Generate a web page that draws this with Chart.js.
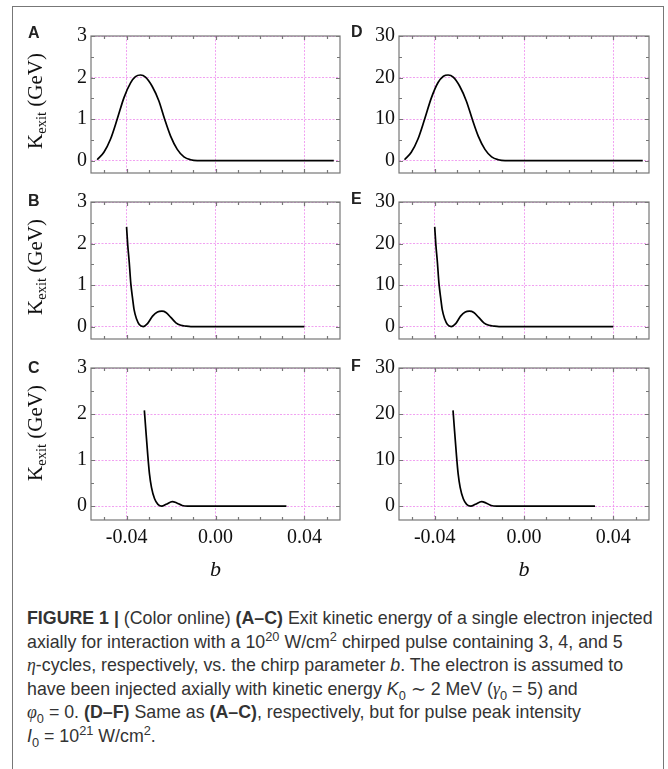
<!DOCTYPE html>
<html lang="en">
  <head>
    <meta charset="UTF-8" />
    <title>Figure 1 - Exit kinetic energy vs chirp parameter</title>
    <script src="https://cdn.jsdelivr.net/npm/chart.js@4.4.0/dist/chart.umd.min.js"></script>
    <style>
      body {
        margin: 0;
        background: #fff;
        width: 668px;
        height: 769px;
        position: relative;
        overflow: hidden;
        font-family: "Liberation Sans", Arial, sans-serif;
      }

      #frame {
        position: absolute;
        left: 12px;
        top: 6px;
        width: 652px;
        height: 775px;
        border: 1.5px solid #777;
        box-sizing: border-box;
      }

      canvas {
        position: absolute;
      }

      .letter {
        position: absolute;
        font: bold 16px "Liberation Sans", Arial, sans-serif;
        line-height: 16px;
        color: #222;
      }

      .ylab {
        position: absolute;
        font: 21px "Liberation Serif", "Times New Roman", serif;
        line-height: 21px;
        white-space: nowrap;
        color: #111;
        transform: translate(-50%, -50%) rotate(-90deg);
      }

      .ylab span {
        font-size: 14.5px;
        position: relative;
        top: 4px;
      }

      #caption {
        position: absolute;
        left: 27px;
        top: 607px;
        font-size: 17.8px;
        line-height: 23.6px;
        color: #333;
        white-space: nowrap;
      }

      #caption sup,
      #caption sub {
        font-size: 0.72em;
        line-height: 0;
      }

      #caption .m {
        font-family: "Liberation Serif", serif;
        font-style: italic;
      }
    </style>
  </head>
  <body>
    <div id="frame"></div>

    <canvas id="cA" width="311" height="169" style="left:30px;top:20px"></canvas>
    <canvas id="cB" width="311" height="169" style="left:30px;top:186px"></canvas>
    <canvas id="cC" width="311" height="232" style="left:30px;top:352px"></canvas>
    <canvas id="cD" width="305" height="169" style="left:345px;top:20px"></canvas>
    <canvas id="cE" width="305" height="169" style="left:345px;top:186px"></canvas>
    <canvas id="cF" width="305" height="232" style="left:345px;top:352px"></canvas>

    <div class="letter" style="left:28px;top:25px">A</div>
    <div class="letter" style="left:28px;top:193px">B</div>
    <div class="letter" style="left:28px;top:360px">C</div>
    <div class="letter" style="left:351px;top:24px">D</div>
    <div class="letter" style="left:351px;top:191px">E</div>
    <div class="letter" style="left:351px;top:358px">F</div>

    <div class="ylab" style="left:36px;top:101px">K<span>exit</span> (GeV)</div>
    <div class="ylab" style="left:36px;top:267px">K<span>exit</span> (GeV)</div>
    <div class="ylab" style="left:36px;top:433px">K<span>exit</span> (GeV)</div>

    <div id="caption">
      <b>FIGURE 1 |</b> (Color online) <b>(A–C)</b> Exit kinetic energy of a single electron injected<br />
      axially for interaction with a 10<sup>20</sup> W/cm<sup>2</sup> chirped pulse containing 3, 4, and 5<br />
      <span class="m">η</span>-cycles, respectively, vs. the chirp parameter <i>b</i>. The electron is assumed to<br />
      have been injected axially with kinetic energy <i>K</i><sub>0</sub> ∼ 2 MeV (<span class="m">γ</span><sub>0</sub> = 5) and<br />
      <span class="m">φ</span><sub>0</sub> = 0. <b>(D–F)</b> Same as <b>(A–C)</b>, respectively, but for pulse peak intensity<br />
      <i>I</i><sub>0</sub> = 10<sup>21</sup> W/cm<sup>2</sup>.
    </div>

    <script>
      // tick positions
      const xTicks = [-0.04, 0, 0.04];
      const xMinor = [-0.05, -0.04, -0.03, -0.02, -0.01, 0, 0.01, 0.02, 0.03, 0.04, 0.05];
      const yTicksLow = [0, 1, 2, 3];
      const yMinorLow = [0, 0.5, 1, 1.5, 2, 2.5, 3];
      const yTicksHigh = [0, 10, 20, 30];
      const yMinorHigh = [0, 5, 10, 15, 20, 25, 30];

      // (A) 3 cycles, 1e20 W/cm2
      const bA = [-0.0532, -0.0502, -0.0472, -0.0442, -0.0412, -0.0382, -0.036, -0.0337, -0.0315, -0.0285, -0.0255, -0.0229, -0.0202, -0.0172, -0.0142, -0.0112, -0.0082, 0.0532];
      const kA = [0.02, 0.2, 0.52, 1.0, 1.51, 1.87, 2.02, 2.06, 2.01, 1.79, 1.44, 1.0, 0.59, 0.27, 0.09, 0.02, 0, 0];

      // (B) 4 cycles
      const bB = [-0.04, -0.0395, -0.0388, -0.0381, -0.0373, -0.0366, -0.0355, -0.0343, -0.0325, -0.0306, -0.0283, -0.0261, -0.0241, -0.0223, -0.0201, -0.0178, -0.0156, -0.0133, -0.0111, 0.04];
      const kB = [2.4, 1.98, 1.55, 1.04, 0.68, 0.4, 0.18, 0.05, 0, 0.07, 0.25, 0.35, 0.37, 0.34, 0.22, 0.09, 0.03, 0.01, 0, 0];

      // (C) 5 cycles
      const bC = [-0.032, -0.0313, -0.0305, -0.0297, -0.0288, -0.0274, -0.0259, -0.0242, -0.0222, -0.0194, -0.0174, -0.015, -0.0124, 0.0319];
      const kC = [2.08, 1.63, 1.13, 0.7, 0.41, 0.16, 0.04, 0, 0.04, 0.1, 0.07, 0.015, 0, 0];

      // (D) 3 cycles, 1e21 W/cm2
      const bD = [-0.0535, -0.0505, -0.0475, -0.0445, -0.0415, -0.0385, -0.0361, -0.034, -0.0317, -0.0288, -0.0258, -0.0232, -0.0205, -0.0175, -0.0145, -0.0115, -0.0085, 0.0532];
      const kD = [0.2, 2.0, 5.2, 10.0, 15.1, 18.8, 20.3, 20.6, 20.1, 17.9, 14.3, 10.0, 5.9, 2.7, 0.9, 0.2, 0, 0];

      // (E) 4 cycles
      const bE = [-0.04, -0.0395, -0.0388, -0.0381, -0.0373, -0.0366, -0.0355, -0.0343, -0.0326, -0.0306, -0.0284, -0.0263, -0.0245, -0.0225, -0.0203, -0.018, -0.0157, -0.0134, -0.0112, 0.04];
      const kE = [24.0, 19.8, 15.5, 10.4, 6.8, 4.0, 1.8, 0.5, 0, 0.7, 2.5, 3.5, 3.7, 3.4, 2.2, 0.9, 0.3, 0.1, 0, 0];

      // (F) 5 cycles
      const bF = [-0.0318, -0.0311, -0.0303, -0.0295, -0.0286, -0.0272, -0.0257, -0.0238, -0.0218, -0.019, -0.017, -0.0147, -0.0122, 0.0318];
      const kF = [20.8, 16.3, 11.3, 7.0, 4.1, 1.6, 0.4, 0, 0.4, 1.0, 0.7, 0.15, 0, 0];

      const serif = "'Liberation Serif', 'Times New Roman', serif";
      const pink = "rgba(236, 130, 236, 0.75)";

      // box around the plot area with small inward ticks
      const framePlugin = {
        id: "frame",
        afterDatasetsDraw(chart, args, opts) {
          const { ctx, chartArea: a } = chart;
          const x = chart.scales.x;
          const y = chart.scales.y;
          ctx.save();
          ctx.strokeStyle = "#777";
          ctx.lineWidth = 1.2;
          ctx.strokeRect(a.left, a.top, a.right - a.left, a.bottom - a.top);
          ctx.beginPath();
          opts.xMinor.forEach((v) => {
            const px = Math.round(x.getPixelForValue(v)) + 0.5;
            const len = xTicks.includes(v) ? 4 : 3;
            ctx.moveTo(px, a.top);
            ctx.lineTo(px, a.top + len);
            ctx.moveTo(px, a.bottom);
            ctx.lineTo(px, a.bottom - len);
          });
          opts.yMinor.forEach((v) => {
            const py = Math.round(y.getPixelForValue(v)) + 0.5;
            const len = opts.yMajor.includes(v) ? 4 : 3;
            ctx.moveTo(a.left, py);
            ctx.lineTo(a.left + len, py);
            ctx.moveTo(a.right, py);
            ctx.lineTo(a.right - len, py);
          });
          ctx.stroke();
          ctx.restore();
        },
      };

      function panel(id, b, k, yMajor, yMinor, yMax, bottomRow, axisWidth) {
        new Chart(document.getElementById(id), {
          type: "line",
          data: {
            datasets: [
              {
                data: b.map((v, i) => ({ x: v, y: k[i] })),
                borderColor: "#000",
                borderWidth: 1.7,
                pointRadius: 0,
                cubicInterpolationMode: "monotone",
                fill: false,
              },
            ],
          },
          options: {
            responsive: false,
            animation: false,
            devicePixelRatio: 1,
            layout: { padding: { top: 14, right: 1, bottom: 1, left: 0 } },
            plugins: {
              legend: { display: false },
              tooltip: { enabled: false },
              frame: { xMinor: xMinor, yMinor: yMinor, yMajor: yMajor },
            },
            scales: {
              x: {
                type: "linear",
                min: -0.056,
                max: 0.056,
                afterBuildTicks: (s) => {
                  s.ticks = xTicks.map((v) => ({ value: v }));
                },
                afterFit: (s) => {
                  s.height = bottomRow ? 63 : 0;
                },
                grid: { color: pink, lineWidth: 1, drawTicks: false },
                border: { display: false, dash: [2, 1.5] },
                ticks: {
                  display: bottomRow,
                  padding: 6,
                  color: "#111",
                  maxRotation: 0,
                  autoSkip: false,
                  font: { family: serif, size: 20 },
                  callback: (v) => Number(v).toFixed(2),
                },
                title: {
                  display: bottomRow,
                  text: "b",
                  color: "#111",
                  padding: 0,
                  font: { family: serif, size: 22, style: "italic" },
                },
              },
              y: {
                type: "linear",
                min: -yMax / 10,
                max: yMax,
                afterBuildTicks: (s) => {
                  s.ticks = yMajor.map((v) => ({ value: v }));
                },
                afterFit: (s) => {
                  s.width = axisWidth;
                },
                grid: { color: pink, lineWidth: 1, drawTicks: false },
                border: { display: false, dash: [2, 1.5] },
                ticks: {
                  padding: 4,
                  color: "#111",
                  font: { family: serif, size: 20 },
                  callback: (v) => String(v),
                },
              },
            },
          },
          plugins: [framePlugin],
        });
      }

      panel("cA", bA, kA, yTicksLow, yMinorLow, 3, false, 61);
      panel("cB", bB, kB, yTicksLow, yMinorLow, 3, false, 61);
      panel("cC", bC, kC, yTicksLow, yMinorLow, 3, true, 61);
      panel("cD", bD, kD, yTicksHigh, yMinorHigh, 30, false, 54);
      panel("cE", bE, kE, yTicksHigh, yMinorHigh, 30, false, 54);
      panel("cF", bF, kF, yTicksHigh, yMinorHigh, 30, true, 54);
    </script>
  </body>
</html>
